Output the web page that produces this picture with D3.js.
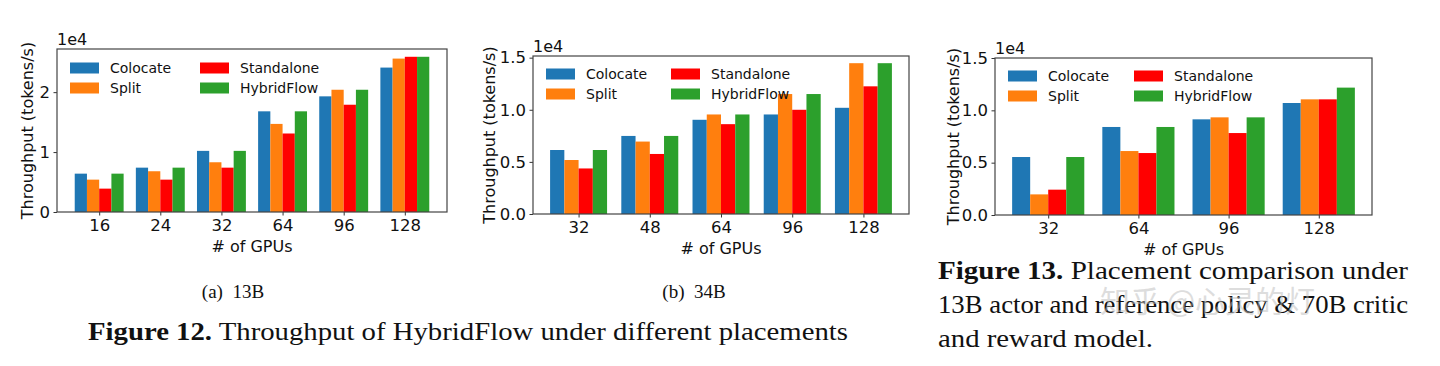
<meta charset="utf-8">
<script src="https://d3js.org/d3.v7.js"></script>
<style>
body { margin: 0; background-color: white; }
svg { font-family: 'DejaVu Sans'; }
.cap { font-family: 'Liberation Serif'; fill: #111; }
</style>
<html>
<body>
<div id="fig"></div>
<script>
// legend / series
const series = ["Colocate", "Split", "Standalone", "HybridFlow"];
const colors = ["#1f77b4", "#ff7f0e", "#ff0000", "#2ca02c"];

// (a) 13B, values in 1e4 tokens/s
const gpus13B = ["16", "24", "32", "64", "96", "128"];
const colocate13B = [0.64, 0.74, 1.02, 1.68, 1.93, 2.41];
const split13B = [0.54, 0.68, 0.83, 1.47, 2.04, 2.56];
const standalone13B = [0.39, 0.54, 0.74, 1.31, 1.79, 2.59];
const hybrid13B = [0.64, 0.74, 1.02, 1.68, 2.04, 2.59];
const yTicks13B = [0, 1, 2];

// (b) 34B
const gpus34B = ["32", "48", "64", "96", "128"];
const colocate34B = [0.614, 0.749, 0.904, 0.955, 1.019];
const split34B = [0.518, 0.695, 0.955, 1.151, 1.447];
const standalone34B = [0.437, 0.576, 0.862, 1.0, 1.225];
const hybrid34B = [0.614, 0.749, 0.955, 1.151, 1.447];
const yTicks34B = [0, 0.5, 1.0, 1.5];

// Figure 13, 13B actor + 70B critic
const gpus70B = ["32", "64", "96", "128"];
const colocate70B = [0.554, 0.841, 0.914, 1.07];
const split70B = [0.197, 0.611, 0.933, 1.105];
const standalone70B = [0.242, 0.592, 0.783, 1.105];
const hybrid70B = [0.554, 0.841, 0.933, 1.217];
const yTicks70B = [0, 0.5, 1.0, 1.5];

var svg = d3.select("#fig").append("svg")
    .attr("width", 1440)
    .attr("height", 366);

function drawChart(box, cats, vals, yMax, ticks, fmt, leg) {
    var n = cats.length;
    var m = 0.05 * (n - 1 + 0.8);
    var x = d3.scaleLinear().domain([-0.4 - m, n - 1 + 0.4 + m]).range([box.x0, box.x1]);
    var y = d3.scaleLinear().domain([0, yMax]).range([box.y1, box.y0]);
    var bw = x(0.2) - x(0);

    var g = svg.append("g");

    // bars
    vals.forEach(function(v, si) {
        g.append("g").selectAll("rect")
            .data(v)
            .enter()
            .append("rect")
            .attr("x", function(d, i) { return x(i - 0.4 + 0.2 * si); })
            .attr("y", function(d) { return y(d); })
            .attr("width", bw)
            .attr("height", function(d) { return y(0) - y(d); })
            .attr("fill", colors[si]);
    });

    // axes
    var xa = g.append("g")
        .attr("transform", "translate(0," + box.y1 + ")")
        .call(d3.axisBottom(x).tickValues(d3.range(n)).tickFormat(function(i) { return cats[i]; })
            .tickSize(3.5).tickPadding(3.5));
    var ya = g.append("g")
        .attr("transform", "translate(" + box.x0 + ",0)")
        .call(d3.axisLeft(y).tickValues(ticks).tickFormat(d3.format(fmt)).tickSize(3.5).tickPadding(3.5));
    [xa, ya].forEach(function(a) {
        a.select(".domain").remove();
        a.selectAll("text").attr("font-size", 16.5).attr("font-family", "DejaVu Sans").attr("fill", "#111");
        a.selectAll("line").attr("stroke", "#333");
    });

    // frame
    g.append("rect")
        .attr("x", box.x0).attr("y", box.y0)
        .attr("width", box.x1 - box.x0).attr("height", box.y1 - box.y0)
        .attr("fill", "none").attr("stroke", "#444").attr("stroke-width", 1.2);

    // offset text
    g.append("text").attr("x", box.x0).attr("y", box.y0 - 4)
        .attr("font-size", 16).attr("fill", "#111").text("1e4");

    // labels
    g.append("text")
        .attr("transform", "translate(" + box.ylx + "," + ((box.y0 + box.y1) / 2) + ") rotate(-90)")
        .attr("text-anchor", "middle").attr("dy", "0.35em")
        .attr("font-size", 16).attr("fill", "#111")
        .text("Throughput (tokens/s)");
    g.append("text")
        .attr("x", (box.x0 + box.x1) / 2).attr("y", box.y1 + 40)
        .attr("text-anchor", "middle")
        .attr("font-size", 16).attr("fill", "#111")
        .text("# of GPUs");

    // legend, 2 columns
    series.forEach(function(s, i) {
        var col = Math.floor(i / 2), row = i % 2;
        var lx = box.x0 + 13 + col * leg.col;
        var ly = box.y0 + leg.row1 + row * 20;
        g.append("rect").attr("x", lx).attr("y", ly - 5.5)
            .attr("width", 29).attr("height", 11).attr("fill", colors[i]);
        g.append("text").attr("x", lx + 40).attr("y", ly).attr("dy", "0.35em")
            .attr("font-size", 14).attr("fill", "#111").text(s);
    });
}

drawChart({x0: 57, x1: 447, y0: 49, y1: 212, ylx: 27}, gpus13B,
    [colocate13B, split13B, standalone13B, hybrid13B], 2.72, yTicks13B, "d", {col: 130, row1: 19});
drawChart({x0: 533, x1: 909, y0: 56, y1: 214, ylx: 489}, gpus34B,
    [colocate34B, split34B, standalone34B, hybrid34B], 1.516, yTicks34B, ".1f", {col: 125, row1: 18});
drawChart({x0: 995, x1: 1372, y0: 58, y1: 215, ylx: 953}, gpus70B,
    [colocate70B, split70B, standalone70B, hybrid70B], 1.5, yTicks70B, ".1f", {col: 126, row1: 18});

// captions
svg.append("text").attr("class", "cap").attr("x", 233).attr("y", 298)
    .attr("text-anchor", "middle").attr("font-size", 19).text("(a)\u00a0 13B");
svg.append("text").attr("class", "cap").attr("x", 694).attr("y", 298)
    .attr("text-anchor", "middle").attr("font-size", 19).text("(b)\u00a0 34B");

var c12 = svg.append("text").attr("class", "cap").attr("x", 88).attr("y", 340)
    .attr("font-size", 25).attr("textLength", 760).attr("lengthAdjust", "spacingAndGlyphs");
c12.append("tspan").attr("font-weight", "bold").text("Figure 12.");
c12.append("tspan").text(" Throughput of HybridFlow under different placements");

var c13 = svg.append("text").attr("class", "cap").attr("x", 938).attr("y", 279)
    .attr("font-size", 25).attr("textLength", 470).attr("lengthAdjust", "spacingAndGlyphs");
c13.append("tspan").attr("font-weight", "bold").text("Figure 13.");
c13.append("tspan").text(" Placement comparison under");
svg.append("text").attr("class", "cap").attr("x", 938).attr("y", 313)
    .attr("font-size", 25).attr("textLength", 470).attr("lengthAdjust", "spacingAndGlyphs")
    .text("13B actor and reference policy & 70B critic");
svg.append("text").attr("class", "cap").attr("x", 938).attr("y", 347)
    .attr("font-size", 25).attr("textLength", 215).attr("lengthAdjust", "spacingAndGlyphs")
    .text("and reward model.");

// watermark
svg.append("text").attr("x", 1100).attr("y", 312)
    .attr("font-family", "Noto Sans CJK SC").attr("font-size", 30)
    .attr("fill", "#bbb").attr("fill-opacity", 0.5)
    .text("知乎 @心灵的灯");
</script>
</body>
</html>
